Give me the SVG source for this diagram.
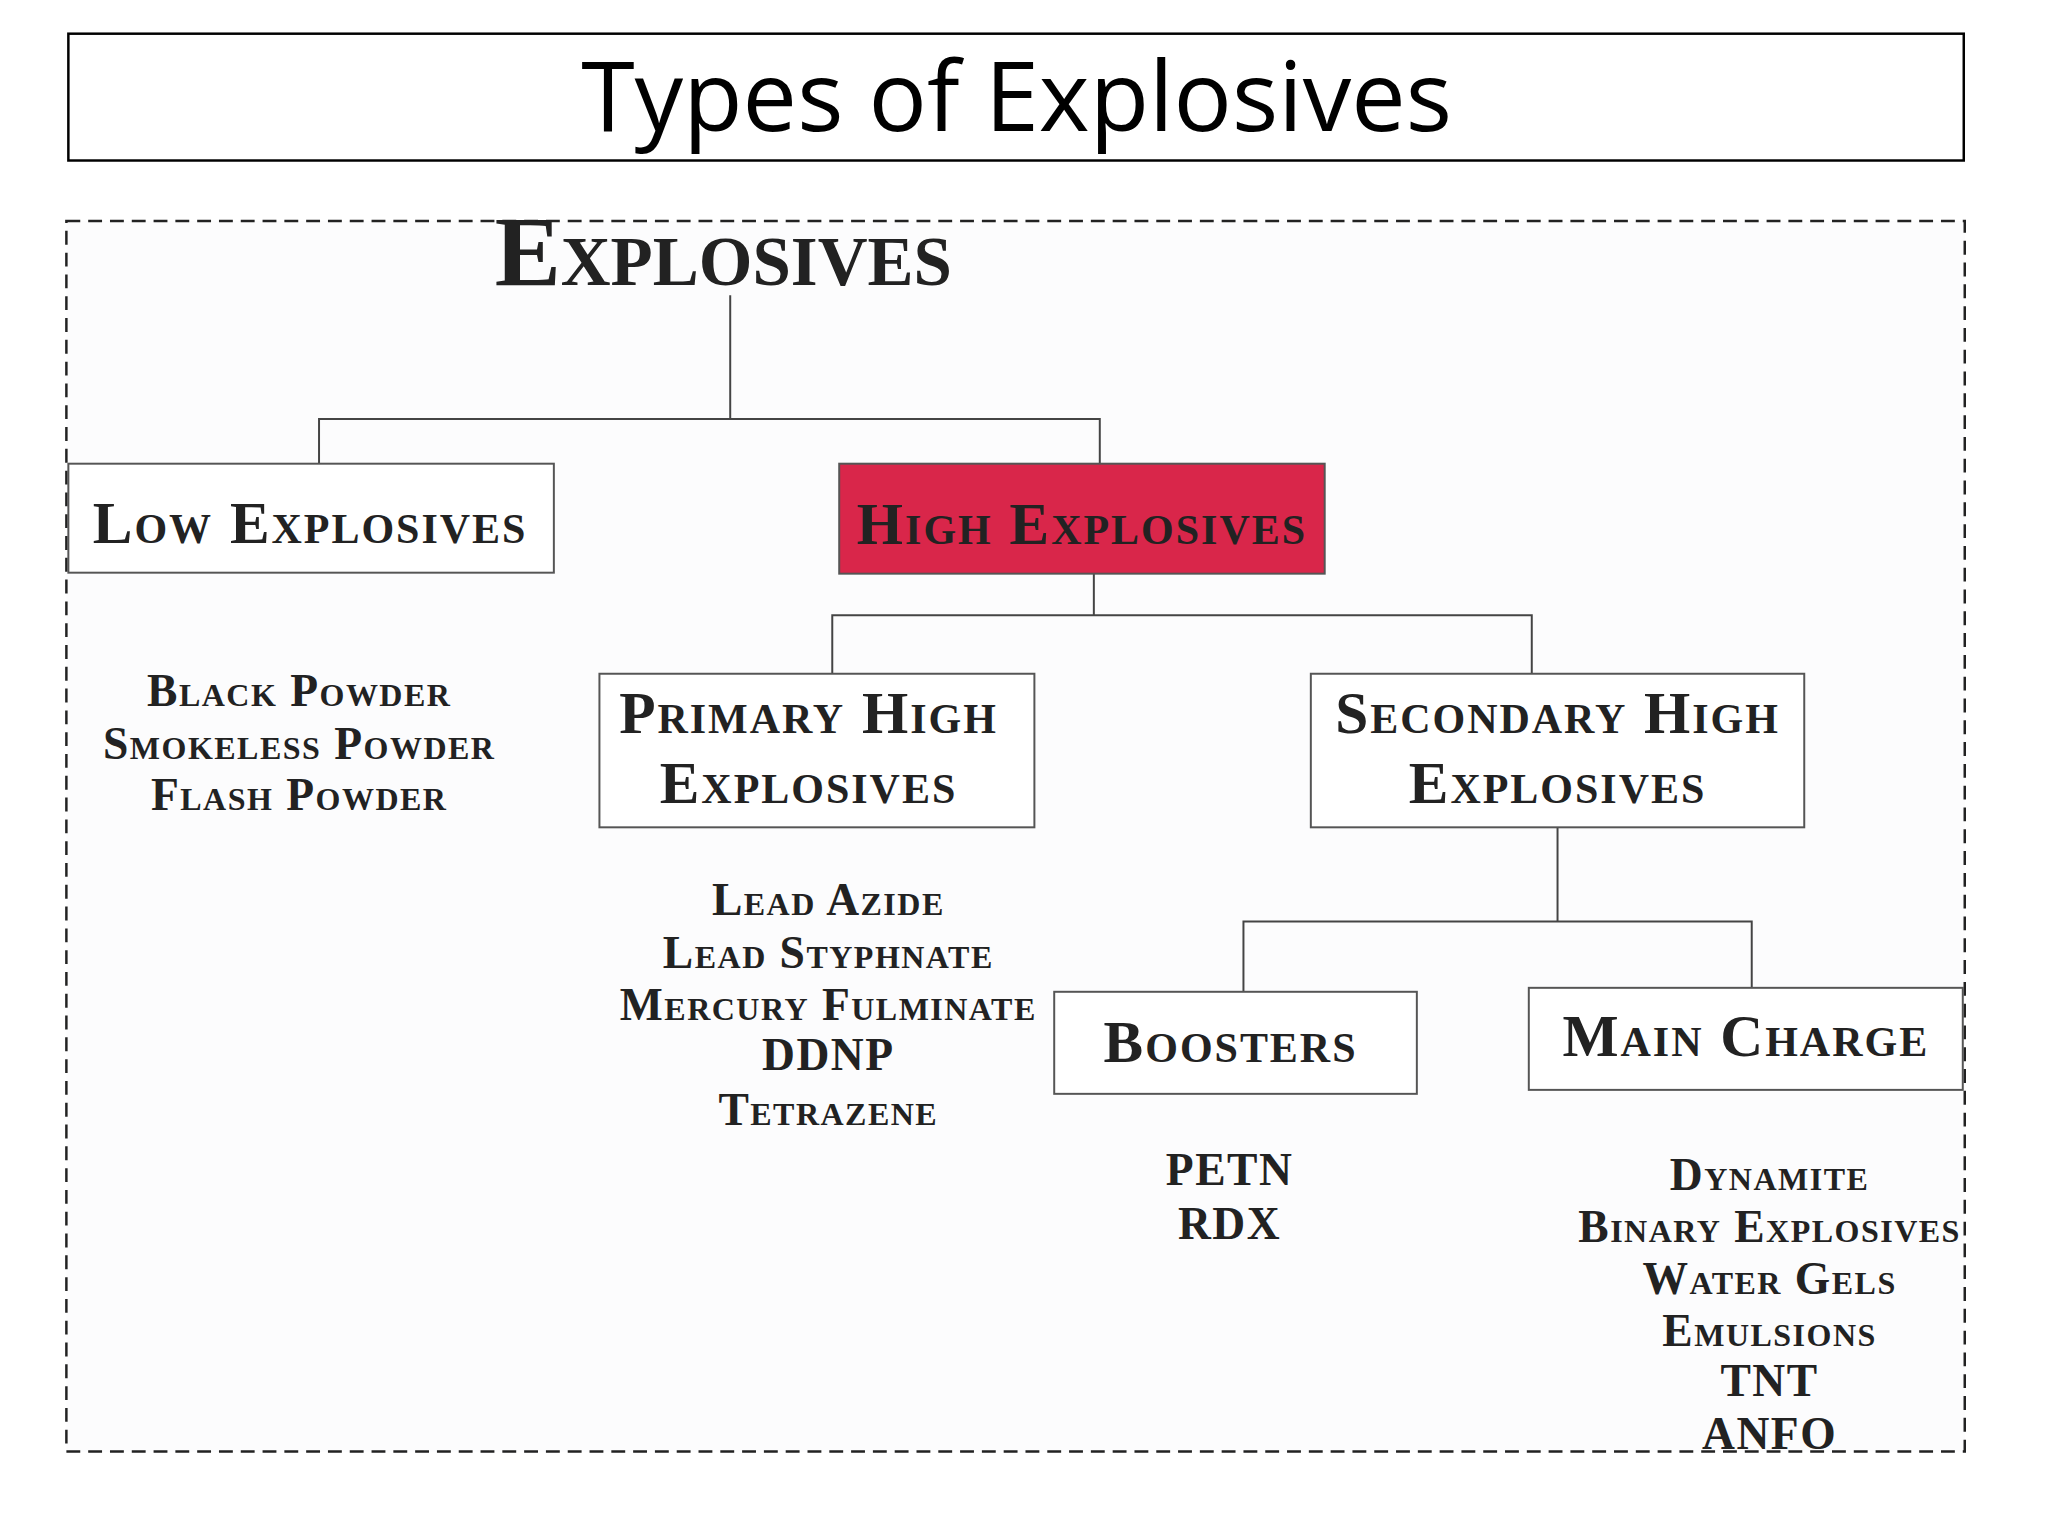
<svg xmlns="http://www.w3.org/2000/svg" width="2048" height="1536" viewBox="0 0 2048 1536">
<style>
.sc{font-family:"Liberation Serif",serif;font-weight:bold;font-variant:small-caps;fill:#222;text-anchor:middle}
.box{fill:#fff;stroke:#555;stroke-width:2}
.ln{fill:none;stroke:#444;stroke-width:2}
.li{font-size:46px;letter-spacing:1.5px}
.lb{font-size:60px;letter-spacing:2px}
</style>
<rect width="2048" height="1536" fill="#fff"/>
<g transform="scale(0.9908)">
<g id="title"><rect x="69" y="34" width="1913" height="128" fill="#fff" stroke="#000" stroke-width="2.5"/>
<text x="1026" y="132" font-family="Open Sans, sans-serif" font-size="98" text-anchor="middle" fill="#000">Types of Explosives</text></g>
<rect x="67" y="223" width="1916" height="1242" fill="#fcfcfd" stroke="#222" stroke-width="2.5" stroke-dasharray="14,8"/>
<g id="connectors">
<path class="ln" d="M737 298V423M322 468V423H1110V468M1104 579V621M840 680V621H1546V680M1572 835V930M1255 1001V930H1768V997"/>
</g>
<g id="root"><text class="sc" x="730" y="288" font-size="100">Explosives</text></g>
<g id="low"><rect class="box" x="69" y="468" width="490" height="110"/><text class="sc lb" x="313" y="548">Low Explosives</text></g>
<g id="high"><rect x="847" y="468" width="490" height="111" fill="#d9264a" stroke="#555" stroke-width="2"/><text class="sc lb" x="1092" y="549">High Explosives</text></g>
<g id="primary"><rect class="box" x="605" y="680" width="439" height="155"/><text class="sc lb" x="816" y="740">Primary High</text><text class="sc lb" x="816" y="810">Explosives</text></g>
<g id="secondary"><rect class="box" x="1323" y="680" width="498" height="155"/><text class="sc lb" x="1572" y="740">Secondary High</text><text class="sc lb" x="1572" y="810">Explosives</text></g>
<g id="boosters"><rect class="box" x="1064" y="1001" width="366" height="103"/><text class="sc lb" x="1242" y="1072">Boosters</text></g>
<g id="main"><rect class="box" x="1543" y="997" width="438" height="103"/><text class="sc lb" x="1762" y="1066">Main Charge</text></g>
<g id="low-list" class="sc li"><text x="302" y="713">Black Powder</text><text x="302" y="766">Smokeless Powder</text><text x="302" y="818">Flash Powder</text></g>
<g id="primary-list" class="sc li"><text x="836" y="924">Lead Azide</text><text x="836" y="977">Lead Styphnate</text><text x="836" y="1029">Mercury Fulminate</text><text x="836" y="1080">DDNP</text><text x="836" y="1135">Tetrazene</text></g>
<g id="boosters-list" class="sc li"><text x="1241" y="1196">PETN</text><text x="1241" y="1250">RDX</text></g>
<g id="main-list" class="sc li"><text x="1786" y="1201">Dynamite</text><text x="1786" y="1254">Binary Explosives</text><text x="1786" y="1306">Water Gels</text><text x="1786" y="1359">Emulsions</text><text x="1786" y="1409">TNT</text><text x="1786" y="1462">ANFO</text></g>
</g>
</svg>
